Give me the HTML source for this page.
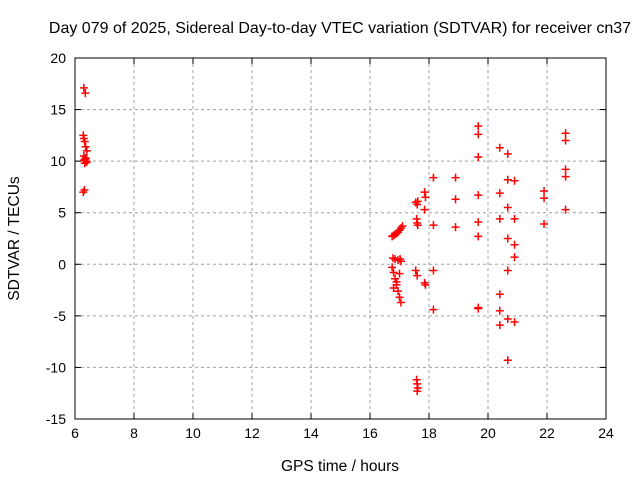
<!DOCTYPE html>
<html><head><meta charset="utf-8"><style>
body{margin:0;background:#fff;}
svg{display:block;font-family:"Liberation Sans",sans-serif;}
</style></head><body>
<svg id="c" width="640" height="480"></svg>
<script>
const hours=[6.3,6.35,6.28,6.3,6.33,6.36,6.4,6.3,6.35,6.38,6.3,6.33,6.36,6.4,6.28,6.32,
16.75,16.8,16.85,16.9,16.95,17.0,17.05,17.1,16.78,16.85,16.95,17.02,16.75,16.8,16.85,16.9,16.95,17.0,17.05,16.8,16.9,17.0,17.05,
17.55,17.6,17.62,17.85,17.88,17.85,17.58,17.6,17.62,17.55,17.6,17.85,17.88,17.58,17.6,17.62,17.6,
18.15,18.15,18.15,18.15,
18.9,18.9,18.9,19.67,19.67,19.67,19.67,19.67,19.67,19.67,19.67,
20.4,20.4,20.4,20.4,20.4,20.4,20.67,20.67,20.67,20.67,20.67,20.67,20.67,20.9,20.9,20.9,20.9,20.9,
21.9,21.9,21.9,22.63,22.63,22.63,22.63,22.63];
const values=[17.1,16.6,12.5,12.2,11.9,11.4,11.0,10.5,10.2,10.0,10.1,9.8,10.3,9.9,7.0,7.2,
2.7,2.8,2.9,3.0,3.1,3.3,3.5,3.7,0.6,0.5,0.4,0.5,-0.3,-0.8,-1.4,-2.0,-2.6,-3.2,-3.7,-2.3,-1.7,-0.9,0.3,
6.0,5.8,6.1,7.0,6.5,5.3,4.4,4.0,3.8,-0.6,-1.1,-1.8,-2.0,-11.2,-11.6,-12.0,-12.3,
8.4,3.8,-0.6,-4.4,
8.4,6.3,3.6,13.4,12.6,10.4,6.7,4.1,2.7,-4.3,-4.2,
11.3,6.9,4.4,-2.9,-4.5,-5.9,10.7,8.2,5.5,2.5,-0.6,-5.3,-9.3,8.1,4.4,1.9,0.7,-5.6,
7.1,6.4,3.9,12.7,12.0,9.2,8.5,5.3];
const xTicks=[6,8,10,12,14,16,18,20,22,24];
const yTicks=[-15,-10,-5,0,5,10,15,20];
const NS="http://www.w3.org/2000/svg";
const svg=document.getElementById('c');
const L=75,R=606,T=58,B=419;
const xs=h=>L+(h-6)/18*(R-L);
const ys=v=>B-(v+15)/35*(B-T);
function mk(t,a){const e=document.createElementNS(NS,t);for(const k in a)e.setAttribute(k,a[k]);svg.appendChild(e);return e;}
xTicks.forEach(t=>{const x=xs(t);
 if(t>6&&t<24){const g=mk('line',{x1:x,x2:x,y1:T,y2:B,stroke:'#a0a0a0','stroke-dasharray':'3,3'});
 
 }
 const tx=mk('text',{x:x,y:B+19,'text-anchor':'middle','font-size':14,fill:'#000'});tx.textContent=t;
 
 
 mk('line',{x1:x,x2:x,y1:B,y2:B-6,stroke:'#000'});mk('line',{x1:x,x2:x,y1:T,y2:T+6,stroke:'#000'});});
yTicks.forEach(t=>{const y=ys(t);
 if(t>-15&&t<20){const g=mk('line',{x1:L,x2:R,y1:y,y2:y,stroke:'#a0a0a0','stroke-dasharray':'3,3'});
 
 }
 const tx=mk('text',{x:L-9,y:y+5,'text-anchor':'end','font-size':14,fill:'#000'});tx.textContent=t;
 
 
 mk('line',{x1:L,x2:L+6,y1:y,y2:y,stroke:'#000'});mk('line',{x1:R,x2:R-6,y1:y,y2:y,stroke:'#000'});});
const fr=mk('rect',{x:L,y:T,width:R-L,height:B-T,fill:'none',stroke:'#000'});


hours.forEach((h,i)=>{const x=xs(h),y=ys(values[i]);
 const p=mk('path',{d:`M${x-4},${y}H${x+4}M${x},${y-4}V${y+4}`,stroke:'#f00','stroke-width':1.5});
 
 });
const tt=mk('text',{x:340,y:33,'text-anchor':'middle','font-size':16,fill:'#000'});
tt.textContent='Day 079 of 2025, Sidereal Day-to-day VTEC variation (SDTVAR) for receiver cn37';


const xl=mk('text',{x:340,y:471,'text-anchor':'middle','font-size':15.5,fill:'#000'});
xl.textContent='GPS time / hours';


const yl=mk('text',{x:0,y:0,'text-anchor':'middle','font-size':15.5,fill:'#000',transform:`translate(19,${(T+B)/2}) rotate(-90)`});
yl.textContent='SDTVAR / TECUs';


</script>
</body></html>
